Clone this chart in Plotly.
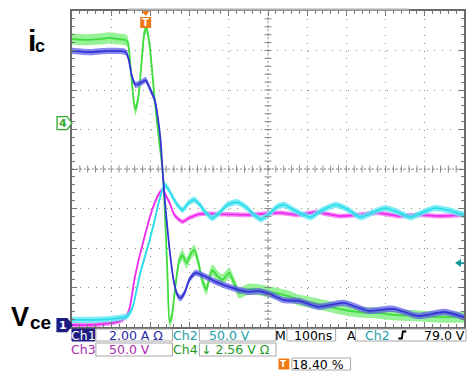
import plotly.graph_objects as go

# ---------------- data (time in ns, 100 ns/div; vertical in screen divisions) ----
ch4_t = [0, 33, 71, 96, 117, 135, 142, 150, 157, 162, 170, 178, 185, 190, 198, 211, 223, 231,
         239, 244, 249, 254, 264, 274, 282, 292, 302, 312, 322, 332, 343, 350, 358, 371, 383,
         393, 401, 414, 426, 439, 452, 477, 503, 528, 553, 579, 604, 629, 680, 731, 782, 832,
         883, 934, 1000]
ch4_v = [7.29, 7.27, 7.29, 7.32, 7.29, 7.27, 7.22, 6.51, 5.75, 5.49, 5.87, 6.76, 7.47, 7.57,
         7.14, 5.75, 4.66, 4.00, 2.46, 1.19, 0.13, 0.23, 1.06, 1.70, 1.82, 1.62, 1.82, 1.95,
         1.65, 1.19, 0.94, 1.24, 1.44, 1.29, 1.19, 1.29, 1.37, 1.11, 0.86, 0.91, 0.96, 0.94,
         0.89, 0.84, 0.78, 0.68, 0.63, 0.58, 0.46, 0.38, 0.35, 0.30, 0.28, 0.25, 0.25]

ch1_t = [0, 46, 96, 137, 145, 152, 162, 175, 188, 198, 211, 218, 226, 231, 239, 249, 259, 269,
         277, 287, 299, 315, 338, 363, 388, 426, 452, 477, 503, 541, 579, 629, 693, 756, 820,
         883, 952, 1000]
ch1_v = [6.99, 6.96, 6.99, 6.96, 6.76, 6.38, 6.13, 6.18, 6.25, 6.05, 5.75, 5.37, 4.73, 3.97,
         2.96, 1.95, 1.19, 0.81, 0.73, 0.86, 1.19, 1.37, 1.29, 1.16, 1.06, 0.94, 0.89, 0.91,
         0.84, 0.68, 0.66, 0.51, 0.61, 0.41, 0.46, 0.28, 0.38, 0.25]

ch3_t = [0, 46, 96, 122, 137, 147, 160, 173, 185, 198, 211, 223, 231, 239, 249, 261, 274, 282,
         299, 325, 376, 452, 528, 579, 624, 680, 731, 782, 832, 883, 934, 1000]
ch3_v = [0.05, 0.05, 0.10, 0.15, 0.25, 0.48, 1.24, 1.82, 2.28, 2.76, 3.14, 3.39, 3.47, 3.34,
         3.14, 2.84, 2.71, 2.66, 2.76, 2.86, 2.86, 2.84, 2.89, 2.84, 2.91, 2.81, 2.84, 2.89,
         2.81, 2.84, 2.81, 2.84]

ch2_t = [0, 46, 96, 122, 142, 155, 173, 185, 198, 211, 223, 236, 244, 254, 269, 282, 297, 312,
         325, 340, 358, 376, 396, 421, 447, 464, 482, 503, 523, 541, 566, 591, 609, 635, 673,
         706, 736, 769, 799, 832, 863, 896, 926, 959, 1000]
ch2_v = [0.18, 0.18, 0.20, 0.23, 0.28, 0.51, 1.32, 1.75, 2.20, 2.71, 3.22, 3.59, 3.52, 3.34,
         3.09, 2.96, 3.14, 3.22, 3.11, 2.91, 2.76, 2.89, 3.09, 3.16, 3.01, 2.84, 2.73, 2.86,
         3.04, 3.09, 2.96, 2.84, 2.78, 2.94, 3.09, 2.96, 2.78, 2.91, 3.01, 2.91, 2.78, 2.91,
         3.01, 2.96, 2.84]

ch4_ground = 5.16     # divisions
ch1_ground = 0.05
trigger_time = 188    # ns
trigger_level = 1.62  # divisions (Ch2)

readout_row1 = ["Ch1", "2.00 A \u03a9", "Ch2", "50.0 V", "M", "100ns", "A", "Ch2", "79.0 V"]
readout_row2 = ["Ch3", "50.0 V", "Ch4", "\u2193 2.56 V \u03a9"]
trigger_pos = "18.40 %"

# ---------------- geometry / style ----------------
W, H = 467, 372
L, T, R, B = 72, 11, 466, 327
XMAX, YMAX = 1000, 8


def px(x):
    return (x - L) / (R - L)


def py(y):
    return (B - y) / (B - T)


fig = go.Figure()

series = [
    (ch4_t, ch4_v, "#3fdc3f", "rgba(125,238,125,0.8)", 0.14),
    (ch3_t, ch3_v, "#ee2cee", "rgba(242,105,242,0.75)", 0.06),
    (ch2_t, ch2_v, "#2ddcea", "rgba(95,232,243,0.8)", 0.08),
    (ch1_t, ch1_v, "#3535d4", "rgba(95,95,232,0.75)", 0.08),
]
for t, v, core, band, amp in series:
    ls = dict(width=0, shape="spline", smoothing=0.6)
    fig.add_trace(go.Scatter(x=t, y=[a - amp for a in v], mode="lines", line=ls,
                             hoverinfo="skip", showlegend=False))
    fig.add_trace(go.Scatter(x=t, y=[a + amp for a in v], mode="lines", line=ls,
                             fill="tonexty", fillcolor=band, hoverinfo="skip", showlegend=False))
    fig.add_trace(go.Scatter(x=t, y=v, mode="lines",
                             line=dict(color=core, width=1.8, shape="spline", smoothing=0.6),
                             hoverinfo="skip", showlegend=False))

# centre-line tick marks
minor_x = [i * 20 for i in range(1, 50)]
minor_y = [i * 0.2 for i in range(1, 40)]
fig.add_trace(go.Scatter(x=minor_x, y=[YMAX / 2] * len(minor_x), mode="markers",
                         marker=dict(symbol="line-ns", size=5, line=dict(width=1, color="#8a8a8a")),
                         hoverinfo="skip", showlegend=False))
fig.add_trace(go.Scatter(x=[XMAX / 2] * len(minor_y), y=minor_y, mode="markers",
                         marker=dict(symbol="line-ew", size=5, line=dict(width=1, color="#8a8a8a")),
                         hoverinfo="skip", showlegend=False))

shapes = []
annos = []


def note(s, x, y, xref, yref, color, size, family="DejaVu Sans"):
    annos.append(dict(x=x, y=y, xref=xref, yref=yref, text=s, xanchor="center",
                      yanchor="middle", font=dict(family=family, size=size, color=color),
                      showarrow=False, borderpad=0))


# centre lines
shapes.append(dict(type="line", xref="x", yref="y", x0=0, x1=XMAX, y0=YMAX / 2, y1=YMAX / 2,
                   line=dict(color="#8a8a8a", width=1, dash="2px,2px"), layer="below"))
shapes.append(dict(type="line", xref="x", yref="y", x0=XMAX / 2, x1=XMAX / 2, y0=0, y1=YMAX,
                   line=dict(color="#8a8a8a", width=1, dash="2px,2px"), layer="below"))

# record bar above the graticule
shapes.append(dict(type="line", xref="paper", yref="paper", x0=px(128), x1=px(411),
                   y0=py(9.5), y1=py(9.5), line=dict(color="#b0b0b0", width=2)))

# trigger position marker (T)
shapes.append(dict(type="path", xref="x", yref="paper",
                   path=f"M {trigger_time-10},{py(11)} L {trigger_time+10},{py(11)} L {trigger_time},{py(16)} Z",
                   fillcolor="#f07814", line=dict(width=0)))
shapes.append(dict(type="rect", xref="x", yref="paper", x0=trigger_time - 14, x1=trigger_time + 14,
                   y0=py(28), y1=py(17), fillcolor="#f07814", line=dict(width=0)))
note("<b>T</b>", trigger_time, py(22.5), "x", "paper", "white", 10)


def marker(ycen, text, color, filled):
    y0, y1 = ycen - 6.5, ycen + 6.5
    path = (f"M {px(57)},{py(y0)} L {px(67)},{py(y0)} L {px(72)},{py(ycen)} "
            f"L {px(67)},{py(y1)} L {px(57)},{py(y1)} Z")
    shapes.append(dict(type="path", xref="paper", yref="paper", path=path,
                       fillcolor=color if filled else "white",
                       line=dict(color=color, width=1.3)))
    note(f"<b>{text}</b>", px(63), py(ycen), "paper", "paper",
         "white" if filled else color, 11)


marker(B - ch4_ground * (B - T) / YMAX, "4", "#2faa2f", False)
marker(B - ch1_ground * (B - T) / YMAX, "1", "#1c1c82", True)

# trigger level arrow (right)
ty = trigger_level
shapes.append(dict(type="path", xref="paper", yref="y",
                   path=f"M {px(457)},{ty} L {px(463)},{ty+0.1} L {px(463)},{ty-0.1} Z",
                   fillcolor="#129a9c", line=dict(width=0)))
shapes.append(dict(type="line", xref="paper", yref="y", x0=px(461), x1=px(466), y0=ty, y1=ty,
                   line=dict(color="#129a9c", width=1.5)))

# labels
LF = "Liberation Sans"
note("<b>i</b>", px(31.5), py(41), "paper", "paper", "black", 30, LF)
note("<b>c</b>", px(40), py(46), "paper", "paper", "black", 18, LF)
note("<b>V</b>", px(20), py(316.5), "paper", "paper", "black", 27, LF)
note("<b>ce</b>", px(40.5), py(322), "paper", "paper", "black", 19, LF)


# readouts
def box(x0, y0, x1, y1, fill="white", line="#a8a8a8"):
    shapes.append(dict(type="rect", xref="paper", yref="paper", x0=px(x0), x1=px(x1),
                       y0=py(y1), y1=py(y0), fillcolor=fill, line=dict(color=line, width=1)))


def txt(s, cx, cy, color, size=12.5):
    note(s, px(cx), py(cy), "paper", "paper", color, size)


C1, C2, C3, C4 = "#2a2aa8", "#1a9ea6", "#b02cb0", "#1f9a1f"
r1, r2 = 335, 349.5
box(72, 329, 95, 341, fill="#1c1c82", line="#1c1c82")
txt(readout_row1[0], 83.5, r1, "white")
box(96, 329, 173, 341)
txt(readout_row1[1], 136, r1, C1)
txt(readout_row1[2], 186.5, r1, C2)
box(200, 329, 277, 341)
txt(readout_row1[3], 230, r1, C2)
txt(readout_row1[4], 281.5, r1, "black")
box(288, 329, 337, 341)
txt(readout_row1[5], 314, r1, "black")
txt(readout_row1[6], 352.5, r1, "black")
box(357, 329, 468, 341)
txt(readout_row1[7], 379, r1, C2)
shapes.append(dict(type="path", xref="paper", yref="paper",
                   path=f"M {px(400)},{py(338.5)} L {px(403.5)},{py(338.5)} L {px(404.5)},{py(331.5)} L {px(408)},{py(331.5)}",
                   line=dict(color="black", width=1.8)))
txt(readout_row1[8], 446, r1, "black")

txt(readout_row2[0], 83.5, r2, C3)
box(96, 343, 173, 356)
txt(readout_row2[1], 130, r2, C3)
txt(readout_row2[2], 186.5, r2, C4)
box(200, 343, 277, 356)
txt(readout_row2[3], 236, r2, C4)

box(280, 359, 290, 369, fill="#f07814", line="#f07814")
txt("<b>T</b>", 285, 364, "white", size=9)
box(293, 358, 352, 370)
txt(trigger_pos, 319, 364, "black")

axis_common = dict(showticklabels=False, ticks="inside", ticklen=5, tickcolor="#777777",
                   showline=True, linecolor="#6a6a6a", linewidth=2, mirror="allticks",
                   zeroline=False, showgrid=True, gridcolor="#8c8c8c", gridwidth=1,
                   fixedrange=True)
fig.update_layout(
    width=W, height=H,
    margin=dict(l=L, r=W - R, t=T, b=H - B, pad=0),
    paper_bgcolor="white", plot_bgcolor="white",
    showlegend=False,
    xaxis=dict(range=[0, XMAX], dtick=100, tick0=0, griddash="1px,6.9px",
               minor=dict(dtick=20, ticks="inside", ticklen=3, tickcolor="#777777", showgrid=False),
               **axis_common),
    yaxis=dict(range=[0, YMAX], dtick=1, tick0=0, griddash="1px,6.88px",
               minor=dict(dtick=0.2, ticks="inside", ticklen=3, tickcolor="#777777", showgrid=False),
               **axis_common),
    shapes=shapes,
    annotations=annos,
)

fig.write_html("out.html", config={"displayModeBar": False, "staticPlot": True},
               post_script="document.body.style.margin='0';document.body.style.overflow='hidden';")
